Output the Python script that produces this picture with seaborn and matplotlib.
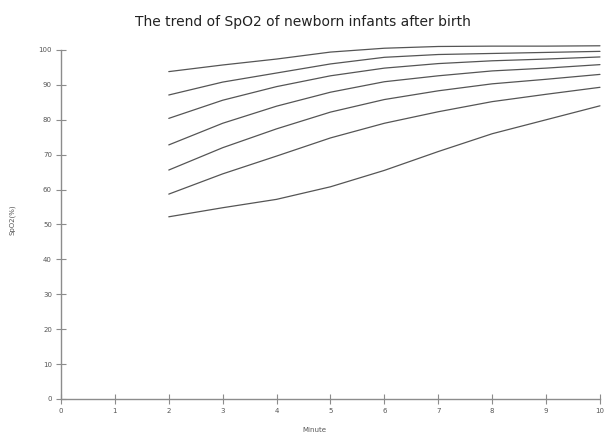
import numpy as np
import pandas as pd
import matplotlib
matplotlib.use("Agg")
import matplotlib.pyplot as plt
import seaborn as sns

# minutes after birth, one curve per percentile band (top to bottom)
minutes = [2, 3, 4, 5, 6, 7, 8, 9, 10]
curve_1 = [93.8, 95.7, 97.4, 99.4, 100.5, 101.0, 101.1, 101.1, 101.2]
curve_2 = [87.1, 90.8, 93.4, 96.0, 97.9, 98.7, 99.0, 99.3, 99.6]
curve_3 = [80.4, 85.6, 89.5, 92.6, 94.8, 96.1, 96.9, 97.4, 98.0]
curve_4 = [72.8, 79.0, 83.9, 87.9, 90.9, 92.6, 94.0, 94.8, 95.8]
curve_5 = [65.6, 72.0, 77.4, 82.2, 85.8, 88.3, 90.3, 91.6, 93.0]
curve_6 = [58.7, 64.5, 69.6, 74.8, 79.0, 82.3, 85.2, 87.3, 89.3]
curve_7 = [52.2, 54.8, 57.2, 60.8, 65.5, 70.9, 76.0, 80.0, 84.0]

x_ticks = list(range(0, 11))
y_ticks = list(range(0, 101, 10))

curves = [curve_1, curve_2, curve_3, curve_4, curve_5, curve_6, curve_7]
df = pd.concat(
    [pd.DataFrame({"minute": minutes, "spo2": c, "curve": f"c{i}"})
     for i, c in enumerate(curves)],
    ignore_index=True,
)

sns.set_style("white")
plt.rcParams["font.family"] = ["DejaVu Sans"]

LINE = "#555555"
AXC = "#8c8c8c"

fig = plt.figure(figsize=(6.05, 4.36), dpi=100)
ax = fig.add_axes([0.1008, 0.0849, 0.8909, 0.8245])

sns.lineplot(data=df, x="minute", y="spo2", hue="curve", units="curve",
             estimator=None, palette=[LINE] * len(curves), legend=False,
             linewidth=0.9, ax=ax)
for ln in ax.get_lines():
    ln.set_clip_on(False)

ax.set_xlim(0, 10)
ax.set_ylim(0, 103)
ax.set_xticks(x_ticks)
ax.set_yticks(y_ticks)
for side in ("top", "right"):
    ax.spines[side].set_visible(False)
ax.spines["left"].set_bounds(0, 100)
for side in ("left", "bottom"):
    ax.spines[side].set_color(AXC)
    ax.spines[side].set_linewidth(1.0)
ax.tick_params(axis="both", bottom=True, left=True, direction="inout",
               length=7, width=0.8, colors=AXC, labelsize=5,
               labelcolor="#555555", pad=3)

ax.set_xlabel("Minute", fontsize=5, color="#555555", va="center")
ax.set_ylabel("SpO2(%)", fontsize=5, color="#555555", va="center")
ax.xaxis.set_label_coords(0.47, -0.087)
ax.yaxis.set_label_coords(-0.091, 0.5)

fig.suptitle("The trend of SpO2 of newborn infants after birth",
             x=0.5, y=0.965, fontsize=10, color="#222222")

plt.savefig("out.png", dpi=100)
